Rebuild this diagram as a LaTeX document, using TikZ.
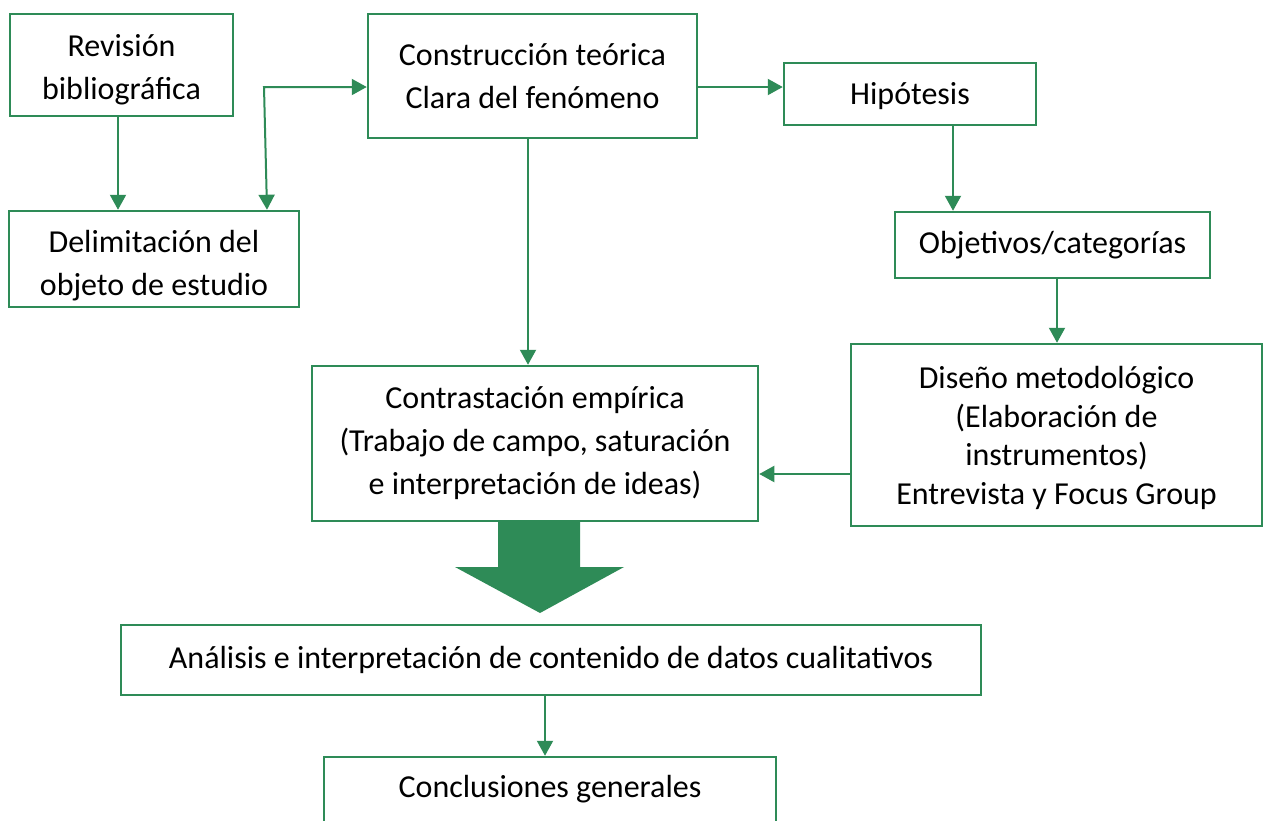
\documentclass[tikz,border=0pt]{standalone}
\usepackage{fontspec}
\setmainfont{Carlito}
\usetikzlibrary{arrows.meta}
\definecolor{gr}{RGB}{46,139,87}
\tikzset{
  box/.style={draw=gr, line width=2.5pt, rectangle, inner sep=0pt, align=center,
    font=\fontsize{32}{43}\selectfont},
  txt/.style={inner sep=0pt, align=center, font=\fontsize{32}{43}\selectfont},
  arr/.style={draw=gr, line width=2pt, -{Triangle[length=15pt,width=16pt]}},
  arrb/.style={draw=gr, line width=2pt, {Triangle[length=15pt,width=16pt]}-{Triangle[length=15pt,width=16pt]}},
}
\begin{document}
\begin{tikzpicture}[x=1pt,y=-1pt]
\useasboundingbox (0,0) rectangle (1263,820);
\node[box, minimum width=223, minimum height=102] (rev) at (121.5,65) {};
\node[txt] (revt) at (121.5,70) {Revisión\\bibliográfica};
\node[box, minimum width=290, minimum height=96] (del) at (154,259) {};
\node[txt] (delt) at (154,266) {Delimitación del\\objeto de estudio};
\node[box, minimum width=329, minimum height=124] (con) at (532.5,76) {Construcción teórica\\Clara del fenómeno};
\node[box, minimum width=252, minimum height=62] (hip) at (910,94) {};
\node[txt] (hipt) at (910,96) {Hipótesis};
\node[box, minimum width=315, minimum height=66] (obj) at (1052.5,245) {Objetivos/categorías};
\node[box, minimum width=411, minimum height=182] (dis) at (1056.5,435) {};
\node[txt, font=\fontsize{32}{38.5}\selectfont] (dist) at (1056.5,438) {Diseño metodológico\\(Elaboración de\\instrumentos)\\Entrevista y Focus Group};
\node[box, minimum width=446, minimum height=155] (cont) at (535,443.5) {Contrastación empírica\\(Trabajo de campo, saturación\\e interpretación de ideas)};
\node[box, minimum width=860, minimum height=70] (ana) at (551,660) {Análisis e interpretación de contenido de datos cualitativos};
\node[box, minimum width=452, minimum height=100] (conc) at (550,807) {};
\node[txt] (conct) at (550,789) {Conclusiones generales};

\coordinate (el) at (264,87);
\coordinate (elb) at (267,0);
\coordinate (hx) at (953,0);
\coordinate (ox) at (1057,0);
\coordinate (dy) at (0,474);
\coordinate (cx) at (528,0);
\coordinate (ax) at (545,0);

\draw[arr] (rev.south -| 118,0) -- (del.north -| 118,0);
\draw[arrb] (del.north -| elb) -- (el) -- (el -| con.west);
\draw[arr] (con.east |- el) -- (hip.west |- el);
\draw[arr] (hip.south -| hx) -- (obj.north -| hx);
\draw[arr] (obj.south -| ox) -- (dis.north -| ox);
\draw[arr] (dis.west |- dy) -- (cont.east |- dy);
\draw[arr] (con.south -| cx) -- (cont.north -| cx);
\draw[arr] (ana.south -| ax) -- (conc.north -| ax);

\fill[gr] (498,522) -- (580,522) -- (580,567) -- (624,567) -- (540,613) -- (455,567) -- (498,567) -- cycle;
\end{tikzpicture}
\end{document}
